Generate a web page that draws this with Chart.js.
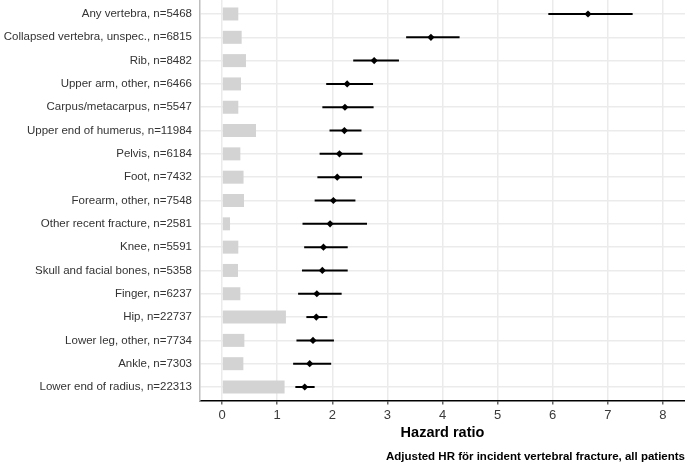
<!DOCTYPE html>
<html>
<head>
<meta charset="utf-8">
<script src="https://cdn.jsdelivr.net/npm/chart.js@4.4.1/dist/chart.umd.min.js"></script>
<style>
    body { margin: 0; background: #fff; }
    #box { width: 685px; height: 464px; }
</style>
</head>
<body>
<div id="box"><canvas id="forestChart"></canvas></div>
<script>
const categories = [
    "Any vertebra, n=5468",
    "Collapsed vertebra, unspec., n=6815",
    "Rib, n=8482",
    "Upper arm, other, n=6466",
    "Carpus/metacarpus, n=5547",
    "Upper end of humerus, n=11984",
    "Pelvis, n=6184",
    "Foot, n=7432",
    "Forearm, other, n=7548",
    "Other recent fracture, n=2581",
    "Knee, n=5591",
    "Skull and facial bones, n=5358",
    "Finger, n=6237",
    "Hip, n=22737",
    "Lower leg, other, n=7734",
    "Ankle, n=7303",
    "Lower end of radius, n=22313"
]
const hazardRatio = [6.64, 3.79, 2.76, 2.27, 2.23, 2.22, 2.13, 2.09, 2.02, 1.96, 1.84, 1.82, 1.72, 1.71, 1.65, 1.59, 1.50]
const ciLower = [5.92, 3.34, 2.38, 1.89, 1.82, 1.95, 1.77, 1.73, 1.68, 1.46, 1.49, 1.45, 1.38, 1.53, 1.35, 1.29, 1.33]
const ciUpper = [7.45, 4.31, 3.21, 2.74, 2.75, 2.53, 2.55, 2.54, 2.42, 2.63, 2.28, 2.28, 2.17, 1.91, 2.03, 1.98, 1.68]
// grey bars, size of each group on the HR scale
const sizeBar = [0.295, 0.356, 0.434, 0.344, 0.295, 0.616, 0.332, 0.39, 0.398, 0.145, 0.295, 0.289, 0.332, 1.159, 0.405, 0.387, 1.135]
const xTicks = [0, 1, 2, 3, 4, 5, 6, 7, 8]

const axisTitle = "Hazard ratio"
const caption = "Adjusted HR för incident vertebral fracture, all patients"
const font = "'Liberation Sans', Arial, sans-serif"

const forestChart = () => {
    new Chart("forestChart", {
        type: "bar",
        data: {
            datasets: [{
                    type: "line",
                    showLine: false,
                    data: hazardRatio.map((v, i) => ({x: v, y: i})),
                    pointStyle: "rectRot",
                    pointRadius: 3.6,
                    pointBorderWidth: 0,
                    pointBackgroundColor: "#000",
                    order: 0
                }, {
                    data: ciLower.map((v, i) => ({x: [v, ciUpper[i]], y: i})),
                    backgroundColor: "#000",
                    grouped: false,
                    maxBarThickness: 2,
                    order: 1
                }, {
                    data: sizeBar.map((v, i) => ({x: [0, v], y: i})),
                    backgroundColor: "#d3d3d3",
                    grouped: false,
                    maxBarThickness: 13,
                    order: 2
                }]
        },
        options: {
            indexAxis: "y",
            responsive: true,
            maintainAspectRatio: false,
            animation: false,
            devicePixelRatio: 1,
            layout: {padding: 0, autoPadding: false},
            scales: {
                x: {
                    type: "linear",
                    min: -0.4,
                    max: 8.4,
                    afterBuildTicks: (s) => { s.ticks = xTicks.map(v => ({value: v})) },
                    afterFit: (s) => { s.height = 45; s.paddingLeft = 0; s.paddingRight = 0 },
                    grid: {color: "#ebebeb", lineWidth: 1.5, tickColor: "#666", tickWidth: 1.5, tickLength: 3.5},
                    border: {color: "#000", width: 1.5},
                    ticks: {color: "#3a3a3a", padding: 3, font: {family: font, size: 13}},
                    title: {
                        display: true,
                        text: axisTitle,
                        color: "#000",
                        font: {family: font, size: 14.5, weight: "bold", lineHeight: 1.2},
                        padding: {top: 0, bottom: 4}
                    }
                },
                y: {
                    type: "linear",
                    reverse: true,
                    offset: false,
                    min: -0.6,
                    max: 16.6,
                    afterBuildTicks: (s) => { s.ticks = categories.map((c, i) => ({value: i})) },
                    afterFit: (s) => { s.width = 200; s.paddingTop = 0; s.paddingBottom = 0 },
                    grid: {color: "#ebebeb", lineWidth: 1.5, drawTicks: false, offset: false},
                    border: {color: "#bdbdbd", width: 1.5},
                    ticks: {
                        color: "#333",
                        padding: 8,
                        autoSkip: false,
                        font: {family: font, size: 11.5},
                        callback: (v) => categories[v]
                    }
                }
            },
            plugins: {
                legend: {display: false},
                tooltip: {enabled: false},
                title: {
                    display: true,
                    position: "bottom",
                    align: "end",
                    text: caption,
                    color: "#000",
                    font: {family: font, size: 11.5, weight: "bold", lineHeight: "14px"},
                    padding: {top: 4, bottom: 0}
                }
            }
        }
    });
}

forestChart()
</script>
</body>
</html>
